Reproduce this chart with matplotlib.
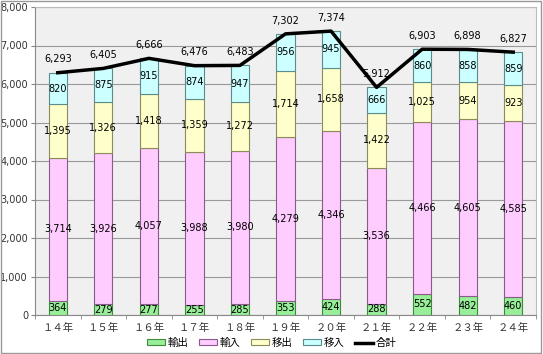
import matplotlib.pyplot as plt
import numpy as np
from matplotlib.ticker import FuncFormatter

plt.rcParams['font.family'] = ['Noto Sans CJK JP', 'DejaVu Sans']

years = ["１４年", "１５年", "１６年", "１７年", "１８年", "１９年",
         "２０年", "２１年", "２２年", "２３年", "２４年"]
export = [364, 279, 277, 255, 285, 353, 424, 288, 552, 482, 460]
imports = [3714, 3926, 4057, 3988, 3980, 4279, 4346, 3536, 4466, 4605, 4585]
out_move = [1395, 1326, 1418, 1359, 1272, 1714, 1658, 1422, 1025, 954, 923]
in_move = [820, 875, 915, 874, 947, 956, 945, 666, 860, 858, 859]
total = [6293, 6405, 6666, 6476, 6483, 7302, 7374, 5912, 6903, 6898, 6827]

series = [("輸出", export, "#99ee99", "#3c8c3c"),
          ("輸入", imports, "#ffccff", "#8c5a8c"),
          ("移出", out_move, "#ffffcc", "#8c8c5a"),
          ("移入", in_move, "#ccffff", "#5a8c8c")]

fig = plt.figure(figsize=(5.43, 3.54), dpi=100)
fig.patch.set_facecolor("white")
ax = fig.add_axes([35 / 543, 39 / 354, 501 / 543, 308 / 354])
ax.set_facecolor("#f0f0f0")

x = np.arange(len(years))
bottom = np.zeros(len(years))
for name, vals, fc, ec in series:
    ax.bar(x, vals, 0.4, bottom=bottom, color=fc, edgecolor=ec,
           linewidth=0.8, label=name, zorder=3)
    for xi, b, v in zip(x, bottom, vals):
        ax.text(xi, b + v / 2, f"{v:,}", ha="center", va="center",
                fontsize=7, family="DejaVu Sans", zorder=5)
    bottom += np.array(vals)

ax.plot(x, total, color="black", linewidth=2.5, label="合計", zorder=4)
for xi, t in zip(x, total):
    ax.annotate(f"{t:,}", (xi, t), xytext=(0, 6), textcoords="offset points",
                ha="center", va="bottom", fontsize=7, family="DejaVu Sans",
                zorder=5)

ax.set_xlim(-0.5, len(years) - 0.5)
ax.set_ylim(0, 8000)
ax.set_yticks(range(0, 8001, 1000))
ax.yaxis.set_major_formatter(FuncFormatter(lambda v, p: f"{int(v):,}"))
ax.set_xticks(x)
ax.set_xticklabels(years, fontsize=7.5, color="#333333")
ax.set_xticks(np.arange(-0.5, len(years), 1), minor=True)
ax.tick_params(axis="x", which="major", length=0, pad=6)
ax.tick_params(axis="x", which="minor", length=3, color="#888888")
ax.tick_params(axis="y", labelsize=7, length=3, pad=2, color="#888888",
               labelcolor="#333333")
for lbl in ax.get_yticklabels():
    lbl.set_family("DejaVu Sans")
ax.grid(axis="y", color="#999999", linewidth=0.8, zorder=0)
for s in ["left", "bottom"]:
    ax.spines[s].set_color("#888888")
for s in ["top", "right"]:
    ax.spines[s].set_color("#bbbbbb")

handles, labels = ax.get_legend_handles_labels()
order = [1, 2, 3, 4, 0]
fig.legend([handles[i] for i in order], [labels[i] for i in order],
           loc="center", bbox_to_anchor=(0.5, 11 / 354),
           ncol=5, frameon=False, fontsize=7.5, handlelength=1.8,
           handleheight=0.5, columnspacing=1.0, handletextpad=0.2)

border = plt.Rectangle((0.002, 0.003), 0.995, 0.993, transform=fig.transFigure,
                       fill=False, edgecolor="#999999", linewidth=1)
fig.patches.append(border)

fig.savefig("out.png", dpi=100)
